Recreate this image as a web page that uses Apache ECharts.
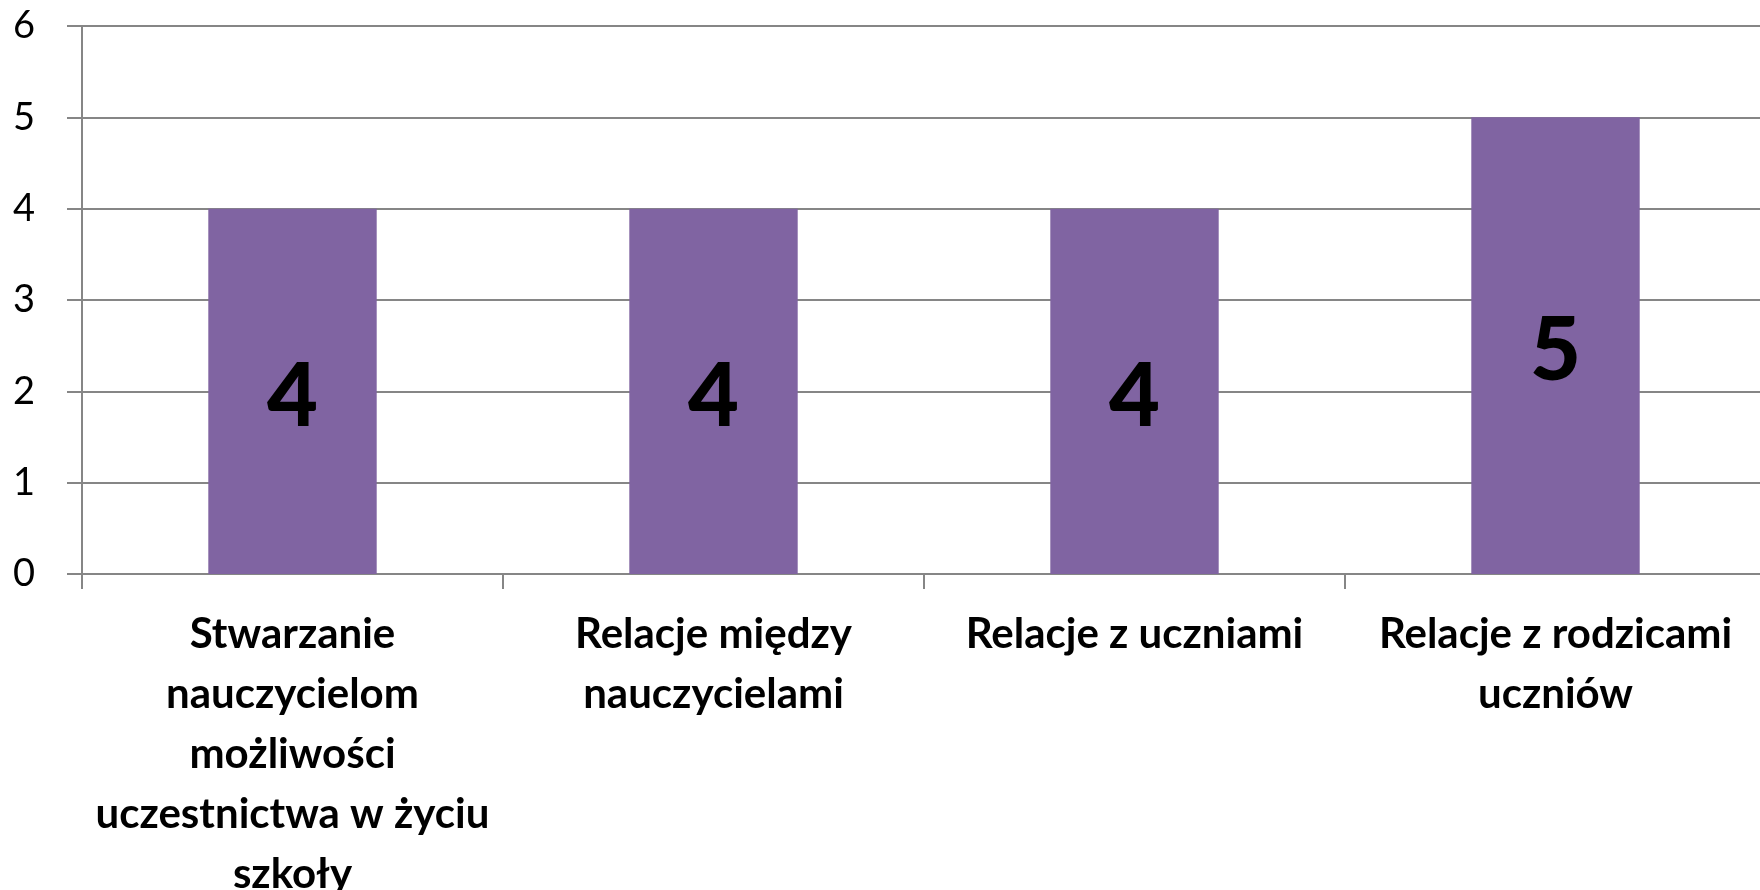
<!DOCTYPE html>
<html style="height: 100%">
<head>
	<meta charset="utf-8">
</head>
<body style="height: 100%; margin: 0; background: #fff">
<div id="container" style="width: 1760px; height: 890px"></div>
<script type="text/javascript" src="https://cdn.jsdelivr.net/npm/echarts@6/dist/echarts.min.js"></script>
<script type="text/javascript">
    var categories = [
        'Stwarzanie\nnauczycielom\nmożliwości\nuczestnictwa w życiu\nszkoły',
        'Relacje między\nnauczycielami',
        'Relacje z uczniami',
        'Relacje z rodzicami\nuczniów'
    ];
    var values = [4, 4, 4, 5];
    var yTicks = [0, 1, 2, 3, 4, 5, 6];

    var gray = '#868686';
    var dom = document.getElementById("container");
    var myChart = echarts.init(dom);
    var option = {
        backgroundColor: '#fff',
        animation: false,
        grid: {
            left: 82,
            right: -6,
            top: 26,
            bottom: 316,
            containLabel: false,
            outerBoundsMode: 'none'
        },
        xAxis: {
            type: 'category',
            data: categories,
            axisLine: {lineStyle: {color: gray, width: 2}},
            axisTick: {show: true, length: 15, lineStyle: {color: gray, width: 2}},
            axisLabel: {
                interval: 0,
                margin: 30,
                color: '#000',
                fontFamily: 'Lato',
                fontWeight: 'bold',
                fontSize: 42,
                lineHeight: 60
            }
        },
        yAxis: {
            type: 'value',
            min: yTicks[0],
            max: yTicks[yTicks.length - 1],
            interval: 1,
            axisLine: {show: true, lineStyle: {color: gray, width: 2}},
            axisTick: {show: true, length: 15, lineStyle: {color: gray, width: 2}},
            splitLine: {lineStyle: {color: gray, width: 2}},
            axisLabel: {
                margin: 47,
                color: '#000',
                fontFamily: 'Lato',
                fontSize: 38
            }
        },
        series: [{
            type: 'bar',
            data: values,
            barWidth: '40%',
            itemStyle: {color: '#8064A2'},
            label: {
                show: true,
                position: 'inside',
                offset: [0, 6],
                color: '#000',
                fontFamily: 'Lato',
                fontWeight: 900,
                fontSize: 88
            }
        }]
    };

    if (option && typeof option === "object") {
        myChart.setOption(option, true);
    }
</script>
</body>
</html>
